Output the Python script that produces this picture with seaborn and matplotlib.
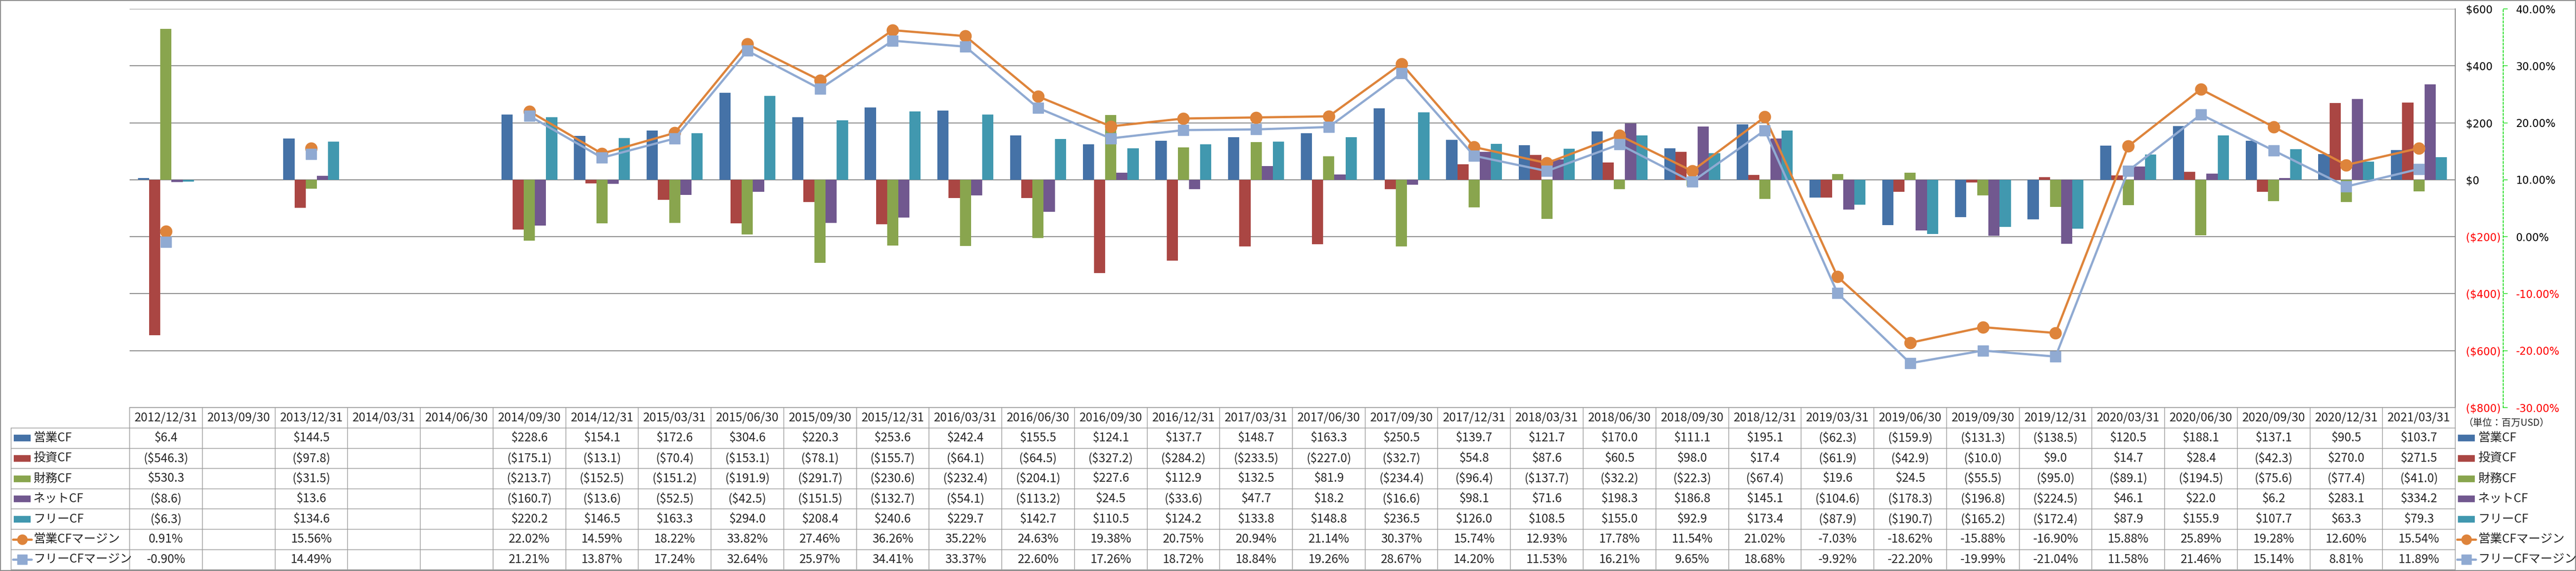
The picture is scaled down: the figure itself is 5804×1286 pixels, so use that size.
import numpy as np
import pandas as pd
import matplotlib
matplotlib.use("Agg")
import matplotlib.pyplot as plt
from matplotlib.lines import Line2D
from matplotlib.patches import Rectangle
import seaborn as sns

nan = np.nan

# ---------------- data ----------------
dates = [
    "2012/12/31", "2013/09/30", "2013/12/31", "2014/03/31", "2014/06/30",
    "2014/09/30", "2014/12/31", "2015/03/31", "2015/06/30", "2015/09/30",
    "2015/12/31", "2016/03/31", "2016/06/30", "2016/09/30", "2016/12/31",
    "2017/03/31", "2017/06/30", "2017/09/30", "2017/12/31", "2018/03/31",
    "2018/06/30", "2018/09/30", "2018/12/31", "2019/03/31", "2019/06/30",
    "2019/09/30", "2019/12/31", "2020/03/31", "2020/06/30", "2020/09/30",
    "2020/12/31", "2021/03/31",
]
operating = [6.4, nan, 144.5, nan, nan, 228.6, 154.1, 172.6, 304.6, 220.3,
             253.6, 242.4, 155.5, 124.1, 137.7, 148.7, 163.3, 250.5, 139.7, 121.7,
             170.0, 111.1, 195.1, -62.3, -159.9, -131.3, -138.5, 120.5, 188.1, 137.1,
             90.5, 103.7]
investing = [-546.3, nan, -97.8, nan, nan, -175.1, -13.1, -70.4, -153.1, -78.1,
             -155.7, -64.1, -64.5, -327.2, -284.2, -233.5, -227.0, -32.7, 54.8, 87.6,
             60.5, 98.0, 17.4, -61.9, -42.9, -10.0, 9.0, 14.7, 28.4, -42.3,
             270.0, 271.5]
financing = [530.3, nan, -31.5, nan, nan, -213.7, -152.5, -151.2, -191.9, -291.7,
             -230.6, -232.4, -204.1, 227.6, 112.9, 132.5, 81.9, -234.4, -96.4, -137.7,
             -32.2, -22.3, -67.4, 19.6, 24.5, -55.5, -95.0, -89.1, -194.5, -75.6,
             -77.4, -41.0]
net = [-8.6, nan, 13.6, nan, nan, -160.7, -13.6, -52.5, -42.5, -151.5,
       -132.7, -54.1, -113.2, 24.5, -33.6, 47.7, 18.2, -16.6, 98.1, 71.6,
       198.3, 186.8, 145.1, -104.6, -178.3, -196.8, -224.5, 46.1, 22.0, 6.2,
       283.1, 334.2]
free = [-6.3, nan, 134.6, nan, nan, 220.2, 146.5, 163.3, 294.0, 208.4,
        240.6, 229.7, 142.7, 110.5, 124.2, 133.8, 148.8, 236.5, 126.0, 108.5,
        155.0, 92.9, 173.4, -87.9, -190.7, -165.2, -172.4, 87.9, 155.9, 107.7,
        63.3, 79.3]
op_margin = [0.91, nan, 15.56, nan, nan, 22.02, 14.59, 18.22, 33.82, 27.46,
             36.26, 35.22, 24.63, 19.38, 20.75, 20.94, 21.14, 30.37, 15.74, 12.93,
             17.78, 11.54, 21.02, -7.03, -18.62, -15.88, -16.90, 15.88, 25.89, 19.28,
             12.60, 15.54]
free_margin = [-0.90, nan, 14.49, nan, nan, 21.21, 13.87, 17.24, 32.64, 25.97,
               34.41, 33.37, 22.60, 17.26, 18.72, 18.84, 19.26, 28.67, 14.20, 11.53,
               16.21, 9.65, 18.68, -9.92, -22.20, -19.99, -21.04, 11.58, 21.46, 15.14,
               8.81, 11.89]

bar_names = ["営業CF", "投資CF", "財務CF", "ネットCF", "フリーCF"]
bar_colors = ["#4572A7", "#AA4643", "#89A54E", "#71588F", "#4198AF"]
line_names = ["営業CFマージン", "フリーCFマージン"]
line_colors = ["#DE843B", "#90AAD2"]
line_markers = ["o", "s"]

dollar_ticks = [-800, -600, -400, -200, 0, 200, 400, 600]
pct_ticks = [-30, -20, -10, 0, 10, 20, 30, 40]
unit_text = "（単位：百万USD）"

# ---------------- setup ----------------
sns.set_style("white")
plt.rcParams["font.family"] = ["Noto Sans CJK JP", "DejaVu Sans"]

W, H, DPI = 5804, 1286, 100
fig = plt.figure(figsize=(W / DPI, H / DPI), dpi=DPI)


def fx(x):
    return x / W


def fy(y):
    return 1 - y / H


PL, PR, PT, PB = 292, 5532, 20, 918
GRID = "#878787"
ax = fig.add_axes([fx(PL), fy(PB), fx(PR) - fx(PL), fy(PT) - fy(PB)])

# ---------------- bars ----------------
bar_values = [operating, investing, financing, net, free]
rows = []
for name, vals in zip(bar_names, bar_values):
    for d, v in zip(dates, vals):
        rows.append({"date": d, "series": name, "value": v})
df = pd.DataFrame(rows).dropna()

sns.barplot(
    data=df, x="date", y="value", hue="series",
    order=dates, hue_order=bar_names,
    palette=dict(zip(bar_names, bar_colors)),
    width=0.77, gap=0, errorbar=None, legend=False,
    saturation=1, linewidth=0, ax=ax,
)
ax.set_xlim(-0.5, len(dates) - 0.5)
ax.set_ylim(-800, 600)
ax.set_xticks([])
ax.set_xlabel("")
ax.set_ylabel("")


def fmt_dollar(v, dec=1):
    if np.isnan(v):
        return ""
    s = f"{abs(v):,.{dec}f}"
    return f"(\\${s})" if v < 0 else f"\\${s}"


def fmt_pct(v):
    if np.isnan(v):
        return ""
    return f"{v:.2f}%"


# ---------------- margin lines ----------------
ax2 = ax.twinx()
x = np.arange(len(dates))
for vals, c, m, ms in zip([op_margin, free_margin], line_colors, line_markers, [19, 17]):
    ax2.plot(x, np.array(vals) / 100, color=c, lw=3.6, marker=m, ms=ms,
             mec=c, mfc=c, solid_joinstyle="round")
ax2.set_ylim(-0.30, 0.40)
ax2.set_yticks([t / 100 for t in pct_ticks], labels=[f"{t:.2f}%" for t in pct_ticks])
ax2.grid(False)
for side in ["left", "top", "bottom"]:
    ax2.spines[side].set_visible(False)
ax2.spines["right"].set_position(("axes", (5640 - PL) / (PR - PL)))
ax2.spines["right"].set_linestyle((0, (2, 2)))
ax2.spines["right"].set_color("#22DD22")
ax2.spines["right"].set_linewidth(1.5)
ax2.tick_params(axis="y", direction="out", length=7, width=1.2,
                color="#22DD22", pad=13.7, labelsize=17)
for lab, t in zip(ax2.get_yticklabels(), pct_ticks):
    lab.set_fontfamily("DejaVu Sans")
    lab.set_color("#FF0000" if t < 0 else "black")

# primary axis labels on the right (twinx resets them to the left)
ax.set_yticks(dollar_ticks, labels=[fmt_dollar(t, 0) for t in dollar_ticks])
ax.yaxis.tick_right()
ax.tick_params(axis="y", which="both", left=False, labelleft=False,
               right=True, labelright=True, length=0, pad=17, labelsize=17)
for lab, t in zip(ax.get_yticklabels(), dollar_ticks):
    lab.set_fontfamily("DejaVu Sans")
    lab.set_color("#FF0000" if t < 0 else "black")
ax.yaxis.grid(True, color=GRID, linewidth=1.5)
ax.set_axisbelow(True)
for side in ["left", "top", "bottom"]:
    ax.spines[side].set_visible(False)
ax.spines["right"].set_visible(True)
ax.spines["right"].set_color(GRID)
ax.spines["right"].set_linewidth(1.5)

# ---------------- data table ----------------
TL = "#9A9A9A"
cw = (PR - PL) / len(dates)
HT, R0, RH = 918, 964, 45.6
n_rows = 7
bottom = R0 + n_rows * RH


def hline(y, x0, x1):
    fig.add_artist(Line2D([fx(x0), fx(x1)], [fy(y), fy(y)], color=TL, lw=1.1,
                          transform=fig.transFigure))


def vline(x_, y0, y1):
    fig.add_artist(Line2D([fx(x_), fx(x_)], [fy(y0), fy(y1)], color=TL, lw=1.1,
                          transform=fig.transFigure))


hline(HT, PL, PR)
for k in range(n_rows + 1):
    hline(R0 + k * RH, 25, PR)
vline(25, R0, bottom)
for i in range(len(dates) + 1):
    vline(PL + i * cw, HT, bottom)

FS = 19.5
for i, d in enumerate(dates):
    fig.text(fx(PL + (i + 0.5) * cw), fy((HT + R0) / 2), d, ha="center",
             va="center", fontsize=FS)

table_rows = [[fmt_dollar(v) for v in vals] for vals in bar_values]
table_rows += [[fmt_pct(v) for v in vals] for vals in [op_margin, free_margin]]
for r, cells in enumerate(table_rows):
    yc = R0 + (r + 0.5) * RH
    for i, s in enumerate(cells):
        if s:
            fig.text(fx(PL + (i + 0.5) * cw), fy(yc), s, ha="center",
                     va="center", fontsize=FS)


def legend_key(x0, yc, r):
    if r < len(bar_names):
        fig.add_artist(Rectangle((fx(x0), fy(yc + 7.5)), 38 / W, 15 / H,
                                 color=bar_colors[r], lw=0,
                                 transform=fig.transFigure))
    else:
        j = r - len(bar_names)
        c = line_colors[j]
        fig.add_artist(Line2D([fx(x0 - 2), fx(x0 + 40)], [fy(yc), fy(yc)],
                              color=c, lw=3.6, transform=fig.transFigure))
        fig.add_artist(Line2D([fx(x0 + 19)], [fy(yc)], color=c,
                              marker=line_markers[j], ms=16, mec=c, mfc=c,
                              transform=fig.transFigure))


all_names = bar_names + line_names
for r, name in enumerate(all_names):
    yc = R0 + (r + 0.5) * RH
    # row label cell
    legend_key(31, yc, r)
    fig.text(fx(75), fy(yc), name, ha="left", va="center", fontsize=FS)
    # right legend
    legend_key(5538, yc, r)
    fig.text(fx(5583), fy(yc), name, ha="left", va="center", fontsize=FS)

fig.text(fx(5550), fy(953), unit_text, ha="left", va="center", fontsize=15.5)

# outer border
fig.add_artist(Rectangle((0, 0), 1, 1, fill=False, ec="#8A8A8A", lw=3,
                         transform=fig.transFigure))

fig.savefig("out.png", dpi=DPI)
plt.close(fig)
